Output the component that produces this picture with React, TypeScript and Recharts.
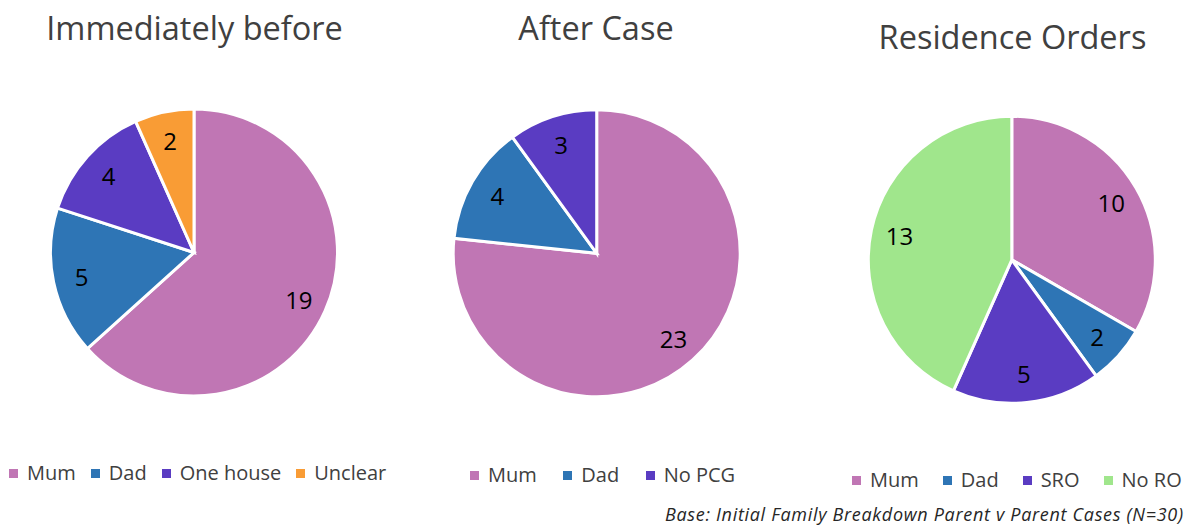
import React from 'react';
import { PieChart, Pie, Cell } from 'recharts';

const beforeCategories = ['Mum', 'Dad', 'One house', 'Unclear'];
const beforeValues = [19, 5, 4, 2];

const afterCategories = ['Mum', 'Dad', 'No PCG'];
const afterValues = [23, 4, 3];

const roCategories = ['Mum', 'Dad', 'SRO', 'No RO'];
const roValues = [10, 2, 5, 13];

const titles = ['Immediately before', 'After Case', 'Residence Orders'];
const footnote = 'Base: Initial Family Breakdown Parent v Parent Cases (N=30)';

const colorByCategory: Record<string, string> = {
  Mum: '#C076B4',
  Dad: '#2E75B5',
  'One house': '#5A3CC2',
  'No PCG': '#5A3CC2',
  SRO: '#5A3CC2',
  Unclear: '#F99C35',
  'No RO': '#A0E68C',
};

const FONT = '"Open Sans", "DejaVu Sans", sans-serif';
const TEXT = '#404040';
const RAD = Math.PI / 180;

const makeData = (cats: string[], vals: number[]) =>
  cats.map((name, i) => ({ name, value: vals[i] }));

const renderLabel = (props: any) => {
  const { cx, cy, midAngle, outerRadius, value } = props;
  const r = outerRadius * 0.8;
  const x = cx + r * Math.cos(-midAngle * RAD);
  const y = cy + r * Math.sin(-midAngle * RAD);
  return (
    <text
      x={x}
      y={y}
      textAnchor="middle"
      dominantBaseline="central"
      fill="#000000"
      fontSize={24}
      fontFamily={FONT}
    >
      {value}
    </text>
  );
};

const panels = [
  { cats: beforeCategories, vals: beforeValues, cx: 194, cy: 252.5, title: titles[0], tx: 194.5, ty: 39.5, lx: 9, ly: 463, gap: 15 },
  { cats: afterCategories, vals: afterValues, cx: 596.7, cy: 253.3, title: titles[1], tx: 596, ty: 39.5, lx: 470, ly: 465, gap: 26.5 },
  { cats: roCategories, vals: roValues, cx: 1011.8, cy: 259.8, title: titles[2], tx: 1012.5, ty: 48.5, lx: 852, ly: 470, gap: 24 },
];

export default function App() {
  return (
    <div
      style={{
        position: 'absolute',
        left: 0,
        top: 0,
        width: 1187,
        height: 526,
        background: '#ffffff',
        fontFamily: FONT,
        overflow: 'hidden',
      }}
    >
      <div style={{ position: 'absolute', left: 0, top: 0 }}>
        <PieChart width={1187} height={526} margin={{ top: 0, right: 0, bottom: 0, left: 0 }}>
          {panels.map((p, pi) => (
            <Pie
              key={pi}
              data={makeData(p.cats, p.vals)}
              dataKey="value"
              nameKey="name"
              cx={p.cx}
              cy={p.cy}
              outerRadius={143.5}
              startAngle={90}
              endAngle={-270}
              stroke="#ffffff"
              strokeWidth={3}
              label={renderLabel}
              labelLine={false}
              isAnimationActive={false}
            >
              {p.cats.map((c) => (
                <Cell key={c} fill={colorByCategory[c]} />
              ))}
            </Pie>
          ))}
        </PieChart>
      </div>
      <svg
        width={1187}
        height={526}
        style={{ position: 'absolute', left: 0, top: 0, pointerEvents: 'none' }}
      >
        {panels.map((p, pi) => (
          <text
            key={pi}
            x={p.tx}
            y={p.ty}
            textAnchor="middle"
            fontSize={32.5}
            fill={TEXT}
            fontFamily={FONT}
          >
            {p.title}
          </text>
        ))}
        <text
          x={665}
          y={521}
          fontSize={18}
          fontStyle="italic"
          fill="#262626"
          fontFamily={FONT}
          textLength={518}
          lengthAdjust="spacing"
        >
          {footnote}
        </text>
      </svg>
      {panels.map((p, pi) => (
        <div
          key={pi}
          style={{
            position: 'absolute',
            left: p.lx,
            top: p.ly,
            display: 'flex',
            alignItems: 'center',
            gap: p.gap,
            fontSize: 20,
            lineHeight: '20px',
            color: TEXT,
            whiteSpace: 'nowrap',
          }}
        >
          {p.cats.map((c) => (
            <div key={c} style={{ display: 'flex', alignItems: 'center', gap: 9 }}>
              <span
                style={{ display: 'inline-block', width: 9, height: 9, background: colorByCategory[c] }}
              />
              <span>{c}</span>
            </div>
          ))}
        </div>
      ))}
    </div>
  );
}
